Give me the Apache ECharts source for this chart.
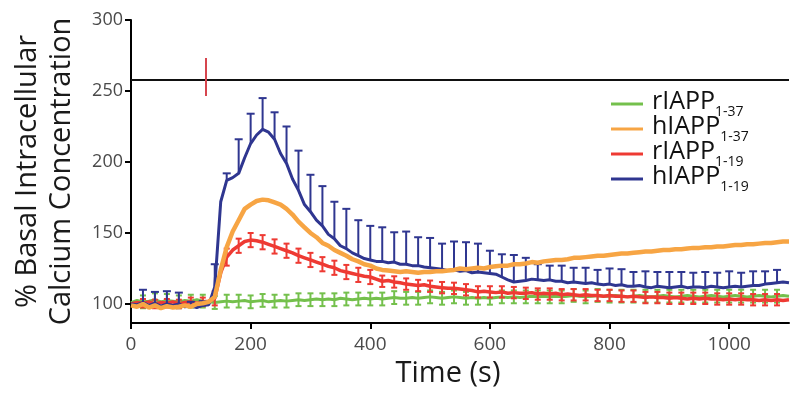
<!DOCTYPE html>
<html>
<head>
<meta charset="utf-8">
<script src="https://cdn.jsdelivr.net/npm/echarts@6/dist/echarts.min.js"></script>
<style>html,body{margin:0;padding:0;background:#fff}#c{width:800px;height:403px}</style>
</head>
<body>
<div id="c"></div>
<script>
// ---- data ----
const times = [0,10,20,30,40,50,60,70,80,90,100,110,120,130,140,150,160,170,180,190,200,210,220,230,240,250,260,270,280,290,300,310,320,330,340,350,360,370,380,390,400,410,420,430,440,450,460,470,480,490,500,510,520,530,540,550,560,570,580,590,600,610,620,630,640,650,660,670,680,690,700,710,720,730,740,750,760,770,780,790,800,810,820,830,840,850,860,870,880,890,900,910,920,930,940,950,960,970,980,990,1000,1010,1020,1030,1040,1050,1060,1070,1080,1090,1100];

const rIAPP137 = [101,102.5,101.5,102,103,101.5,102.5,102,101.5,102.5,102,103,102,101.5,101,101.5,102,101.5,102,102.5,101.5,102,102.5,101.5,102,102.5,102,102.5,103,102.5,103,103.5,103,103.5,103,104,103.5,103,103.5,104,103.5,104,103.5,104,104.5,104,104,104.5,104,104.5,105,104.5,104,104.5,105,104.5,104,104.5,104,104.5,104,104.5,105,104.5,105,104.5,105,105.5,105,105.5,105,105.5,105,105.5,106,105.5,105,105.5,106,105.5,105.5,106,105.5,105,105.5,106,105.5,105,105.5,106,105.5,105,105.5,106,105.5,105,105.5,106,105.5,105,105.5,106,105.5,105,105.5,106,105.5,105,105.5,106,105.5];

const hIAPP137 = [99,98,100,97.5,99,97,98.5,97.5,98,99,98,100,100.5,101.5,105,124,140,151,159,167,170,172.5,173.5,173,171.5,170,167,163,158,154,150,147,143,141,138,136,134,131.5,130,128,127,125,124,123.5,123,122.5,123,122.5,122,122.5,122.5,123,123,123.5,124,125,124.5,125,125.5,125,126,126.5,127,127,128,128,128.5,129.5,129,130,130.5,131,131,131.5,132.5,132.5,133,133.5,134,134,134.5,135,135.5,135.5,136,136.5,137,137,137.5,138,138,138.5,138.5,139,139.5,139.5,140,140,140.5,140.5,141,141.5,141.5,142,142,142.5,143,143,143.5,144,144];

const rIAPP119 = [100,101,100.5,101.5,100,101,100.5,101.5,100,101,101.5,100.5,101.5,102,104,122,133,138,141,144,145,144.5,143.5,142,140.5,139,137.5,136,134,132.5,131,129.5,128,126.5,125.5,123.5,122.5,121.5,120.5,119.5,119,117.5,116,116.5,115.5,115,114,113.5,113,113.5,112.5,112,111.5,111,111,110.5,110,109.5,108.5,109,108.5,108,108.5,107.5,108,107.5,107.5,108,107,107.5,107,107.5,106.5,107,106.5,106,106.5,106,106,105.5,106,105.5,105.5,105,105.5,105,104.5,105,104.5,104.5,104,104.5,104,103.5,104,103.5,104,103.5,103.5,103,103.5,103,103.5,103,103,102.5,103,102.5,103,102.5,103];

const hIAPP119 = [100,99.5,101,99,100.5,98.5,100,99,100,98,98.5,97.5,99,99.5,112,172,187,189,192,203,213,219,223,221,216,206,199,188,180,170,165,159,155,149,146,141,139,136,134,132,131,130,130,129,129.5,128,128,127,127,126,125.5,125,124.5,123.5,124,123,123.5,122,122.5,122,121.5,121,119,117,115.5,116,116.5,117.5,117,116.5,117,116,116,115,115.5,115,114.5,115,114,113.5,114,113,113.5,112.5,112.5,113,112,111.5,112.5,112,111.5,112,112.5,111.5,112,112,111.5,112.5,112,111.5,112,112.5,112,112.5,113,113,114,114.5,115,115.5,115];

// error bars (SEM) at these sample times
const barTimes = [20,40,60,80,100,120,140,160,180,200,220,240,260,280,300,320,340,360,380,400,420,440,460,480,500,520,540,560,580,600,620,640,660,680,700,720,740,760,780,800,820,840,860,880,900,920,940,960,980,1000,1020,1040,1060,1080];
const errH119 = [9,8,9,8,3,3,16,5,24,21,22,19,26,28,26,28,26,28,25,24,24,21,23,20,21,18,20,20,20,16,16,19,16,11,10,11,10,11,10,11,11,10,11,10,11,10,10,11,10,11,10,10,9,9];
const errR119 = [3,3,3,3,3,3,5,6,5,5,5,5,5,5,5,5,5,5,5,5,4,4,4,4,4,4,4,4,4,4,4,4,4,4,4,4,4,4,4,4,4,4,4,4,4,4,4,4,4,4,4,4,4,4];
const errR137 = [4.5,4.5,4.5,4.5,4.5,4.5,4.5,4.5,4.5,4.5,4.5,4.5,4.5,4.5,4.5,4.5,4.5,4.5,4.5,4.5,4.5,4.5,4.5,4.5,4.5,4.5,4.5,4.5,4.5,4.5,4.5,4.5,4.5,4.5,4.5,4.5,4.5,4.5,4.5,4.5,4.5,4.5,4.5,4.5,4.5,4.5,4.5,4.5,4.5,4.5,4.5,4.5,4.5,4.5];

const yTicks = [100,150,200,250,300];
const xTicks = [0,200,400,600,800,1000];
const stimBarY = [257.7];          // horizontal bar (value on y axis)
const stimTime = [124.7];          // red mark time
const stimMarkY = [246.5, 273.2];  // red mark extent

const legendMain = ['rIAPP','hIAPP','rIAPP','hIAPP'];
const legendSub = ['1-37','1-37','1-19','1-19'];
const colors = ['#74c04c','#f7a544','#ee3a33','#2f3690'];

// ---- build ----
const names = legendMain.map((m,i)=>m+'|'+legendSub[i]);
const pairs = arr => times.map((t,i)=>[t, arr[i]]);
const meanAt = (arr,t) => arr[times.indexOf(t)];
const barData = (arr, err) => barTimes.map((t,i)=>[t, meanAt(arr,t), err[i]]);

function errRender(color, upOnly, capW){
  return function(params, api){
    const t = api.value(0), m = api.value(1), e = api.value(2);
    const top = api.coord([t, m + e]);
    const bot = api.coord([t, upOnly ? m : m - e]);
    const st = {stroke: color, lineWidth: 2};
    const ch = [
      {type:'line', shape:{x1:top[0], y1:top[1], x2:bot[0], y2:bot[1]}, style: st},
      {type:'line', shape:{x1:top[0]-capW, y1:top[1], x2:top[0]+capW, y2:top[1]}, style: st}
    ];
    if(!upOnly) ch.push({type:'line', shape:{x1:bot[0]-capW, y1:bot[1], x2:bot[0]+capW, y2:bot[1]}, style: st});
    return {type:'group', children: ch};
  };
}

function lineSeries(idx, arr, width, z){
  return {name: names[idx], type:'line', data: pairs(arr), showSymbol:false, symbol:'none',
    lineStyle:{color: colors[idx], width: width}, itemStyle:{color: colors[idx]}, z: z, animation:false};
}
function barSeries(idx, arr, err, upOnly, capW, z){
  return {name: names[idx]+' sem', type:'custom', data: barData(arr, err), renderItem: errRender(colors[idx], upOnly, capW),
    z: z, animation:false, encode:{x:0, y:1}};
}

const series = [
  barSeries(0, rIAPP137, errR137, false, 3, 2),
  lineSeries(0, rIAPP137, 3, 3),
  barSeries(2, rIAPP119, errR119, false, 3, 4),
  lineSeries(2, rIAPP119, 3.5, 5),
  barSeries(3, hIAPP119, errH119, true, 4, 6),
  lineSeries(3, hIAPP119, 3, 7),
  lineSeries(1, hIAPP137, 4.5, 8)
];
series[1].markLine = {
  silent:true, symbol:['none','none'], label:{show:false}, animation:false,
  data: [
    {yAxis: stimBarY[0], lineStyle:{color:'#111', width:2, type:'solid'}},
    [{coord:[stimTime[0], stimMarkY[0]], lineStyle:{color:'#d6454e', width:2, type:'solid'}},
     {coord:[stimTime[0], stimMarkY[1]]}]
  ]
};

const chart = echarts.init(document.getElementById('c'), null, {renderer:'canvas'});
chart.setOption({
  backgroundColor:'#fff',
  animation:false,
  textStyle:{fontFamily:'Open Sans'},
  grid:{left:131, right:11, top:20, bottom:80},
  legend:{
    data: names, orient:'vertical', left:611, top:89, padding:0, itemGap:-5,
    itemWidth:32, itemHeight:3, icon:'rect', selectedMode:false,
    formatter: n => { const p = n.split('|'); return '{m|'+p[0]+'}{s|'+p[1]+'}'; },
    textStyle:{ rich:{
      m:{fontFamily:'Open Sans', fontSize:25, color:'#111', lineHeight:30, verticalAlign:'top', padding:[0,0,0,4]},
      s:{fontFamily:'Open Sans', fontSize:14, color:'#111', lineHeight:30, verticalAlign:'bottom'}
    }}
  },
  xAxis:{
    type:'value', min:0, max:1100,
    name:'Time (s)', nameLocation:'middle', nameGap:35,
    nameTextStyle:{fontFamily:'Open Sans', fontSize:29, color:'#1a1a1a', padding:[0,24,0,0]},
    axisLine:{show:true, lineStyle:{color:'#000', width:2}},
    axisTick:{show:true, length:6, lineStyle:{color:'#000', width:2}, customValues: xTicks},
    axisLabel:{fontFamily:'Open Sans', fontSize:19, color:'#4a4a4a', margin:12, customValues: xTicks,
      formatter: v => String(v)},
    splitLine:{show:false}
  },
  yAxis:{
    type:'value', min:86.6, max:300,
    name:'% Basal Intracellular\nCalcium Concentration', nameLocation:'middle', nameRotate:90, nameGap:52,
    nameTextStyle:{fontFamily:'Open Sans', fontSize:29, color:'#1a1a1a', lineHeight:34},
    axisLine:{show:true, lineStyle:{color:'#000', width:2}},
    axisTick:{show:true, length:6, lineStyle:{color:'#000', width:2}, customValues: yTicks},
    axisLabel:{fontFamily:'Open Sans', fontSize:18, color:'#4a4a4a', margin:8, customValues: yTicks,
      formatter: v => String(v)},
    splitLine:{show:false}
  },
  series: series
});
</script>
</body>
</html>
